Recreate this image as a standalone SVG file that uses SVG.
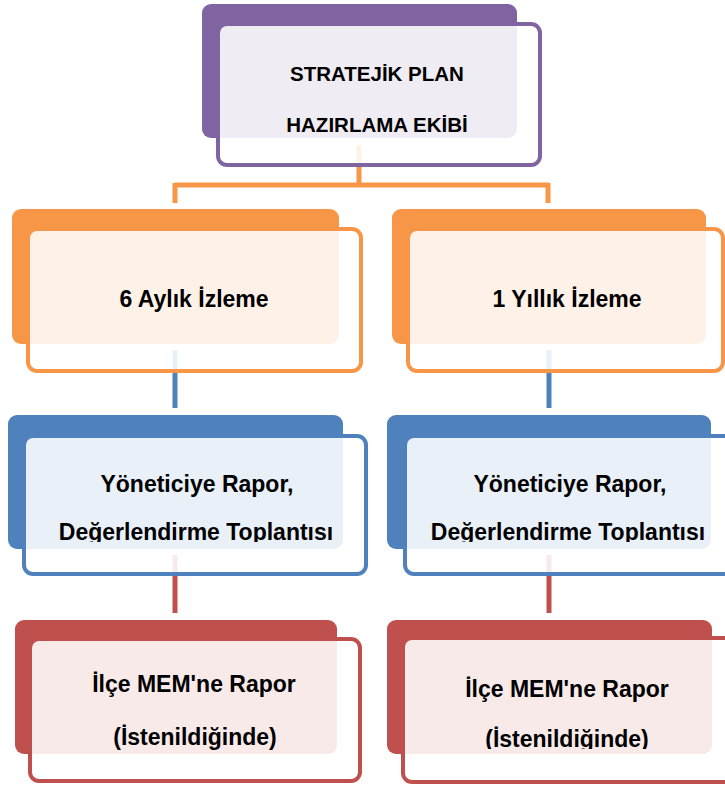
<svg xmlns="http://www.w3.org/2000/svg" width="725" height="785" viewBox="0 0 725 785">
<style>
.front{fill:#ffffff;fill-opacity:0.88;stroke-width:4}
.t{font-family:"Liberation Sans",Arial,sans-serif;font-weight:bold;fill:#000;text-anchor:middle;font-size:23px}
.tt{font-size:20.5px}
.conn{fill:none;stroke-width:5}
</style>
<defs>
<clipPath id="c3l"><rect x="0" y="400" width="370" height="142"/></clipPath>
<clipPath id="c3r"><rect x="380" y="400" width="345" height="142"/></clipPath>
<clipPath id="c4r"><rect x="380" y="600" width="345" height="149"/></clipPath>
</defs>
<rect width="725" height="785" fill="#fff"/>
<g id="connectors">
<path class="conn" stroke="#F79646" d="M359 145 V185 M175 185 H549 M175 183 V203 M548 183 V203"/>
<path class="conn" stroke="#4F81BD" d="M175 350 V408 M549 350 V408"/>
<path class="conn" stroke="#C0504D" d="M175 555 V613 M549 555 V613"/>
</g>
<g id="top">
<rect x="202" y="4" width="315" height="134" rx="9" fill="#8064A2"/>
<rect class="front" x="218" y="24" width="322" height="141" rx="9" stroke="#8064A2"/>
<text class="t tt" x="377" y="81">STRATEJİK PLAN</text>
<text class="t tt" x="377" y="132">HAZIRLAMA EKİBİ</text>
</g>
<g id="six-month">
<rect x="12" y="209" width="327" height="135" rx="9" fill="#F79646"/>
<rect class="front" x="28" y="229" width="333" height="142" rx="9" stroke="#F79646"/>
<text class="t" x="194" y="307">6 Aylık İzleme</text>
</g>
<g id="one-year">
<rect x="392" y="209" width="314" height="135" rx="9" fill="#F79646"/>
<rect class="front" x="408" y="229" width="315" height="142" rx="9" stroke="#F79646"/>
<text class="t" x="567" y="307">1 Yıllık İzleme</text>
</g>
<g id="report-left">
<rect x="8" y="415" width="335" height="134" rx="9" fill="#4F81BD"/>
<rect class="front" x="24" y="436" width="342" height="138" rx="9" stroke="#4F81BD"/>
<g clip-path="url(#c3l)">
<text class="t" x="197" y="492">Yöneticiye Rapor,</text>
<text class="t" x="196" y="540">Değerlendirme Toplantısı</text>
</g>
</g>
<g id="report-right">
<rect x="387" y="415" width="324" height="134" rx="9" fill="#4F81BD"/>
<rect class="front" x="405" y="436" width="330" height="138" rx="9" stroke="#4F81BD"/>
<g clip-path="url(#c3r)">
<text class="t" x="570" y="492">Yöneticiye Rapor,</text>
<text class="t" x="568" y="540">Değerlendirme Toplantısı</text>
</g>
</g>
<g id="mem-left">
<rect x="15" y="620" width="322" height="134" rx="9" fill="#C0504D"/>
<rect class="front" x="30" y="639" width="330" height="142" rx="9" stroke="#C0504D"/>
<text class="t" x="194" y="692">İlçe MEM'ne Rapor</text>
<text class="t" x="195" y="745">(İstenildiğinde)</text>
</g>
<g id="mem-right">
<rect x="387" y="620" width="325" height="134" rx="9" fill="#C0504D"/>
<rect class="front" x="403" y="638" width="332" height="144" rx="9" stroke="#C0504D"/>
<g clip-path="url(#c4r)">
<text class="t" x="567" y="697">İlçe MEM'ne Rapor</text>
<text class="t" x="567" y="747">(İstenildiğinde)</text>
</g>
</g>
</svg>
